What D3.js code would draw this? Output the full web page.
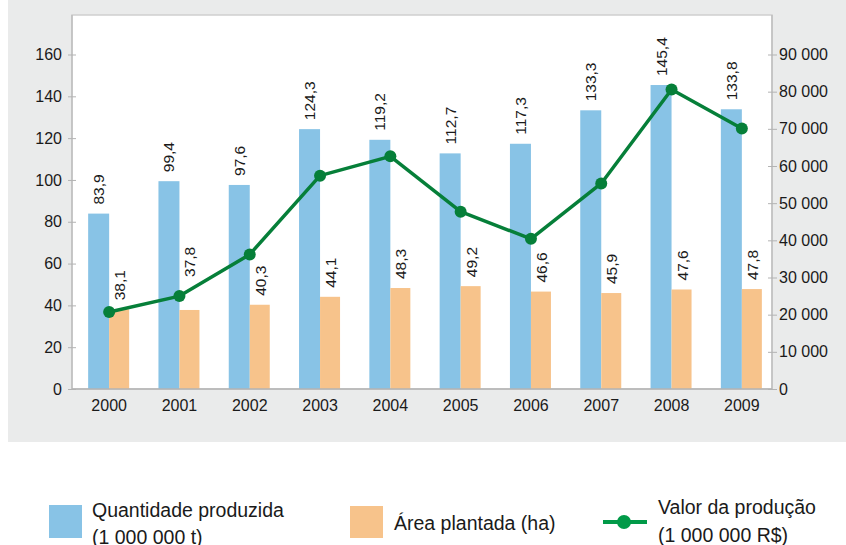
<!DOCTYPE html>
<html>
<head>
<meta charset="utf-8">
<script src="https://cdn.jsdelivr.net/npm/d3@7"></script>
<style>
  body { margin: 0; background: #fff; }
  svg { display: block; font-family: "Liberation Sans", Arial, sans-serif; }
  .axis text { fill: #1a1a1a; font-size: 16px; }
  .axis path, .axis line { stroke: #b3b3b3; }
  .val { font-size: 15.5px; fill: #1a1a1a; }
</style>
</head>
<body>
<script>
// Data
var years = ["2000","2001","2002","2003","2004","2005","2006","2007","2008","2009"];
var quantidade = [83.9, 99.4, 97.6, 124.3, 119.2, 112.7, 117.3, 133.3, 145.4, 133.8];
var area = [38.1, 37.8, 40.3, 44.1, 48.3, 49.2, 46.6, 45.9, 47.6, 47.8];
var valor = [20700, 25000, 36200, 57400, 62600, 47700, 40400, 55300, 80600, 70100];
var leftTicks = [0, 20, 40, 60, 80, 100, 120, 140, 160];
var rightTicks = [0, 10000, 20000, 30000, 40000, 50000, 60000, 70000, 80000, 90000];

var width = 846, height = 545;
var blue = "#88c3e6", orange = "#f7c38b", green = "#067f39";

var svg = d3.select("body").append("svg").attr("width", width).attr("height", height);

// gray panel and white plot area
svg.append("rect").attr("x", 8).attr("y", 0).attr("width", 838).attr("height", 442).attr("fill", "#eaebeb");
svg.append("rect").attr("x", 72).attr("y", 15).attr("width", 700).attr("height", 374)
   .attr("fill", "#fff").attr("stroke", "#cfcfcf").attr("stroke-width", 1.5);

// Scales
var x = d3.scaleBand().domain(years).range([74, 777]);
var y = d3.scaleLinear().domain([0, 160]).range([389, 54.5]);
var y2 = d3.scaleLinear().domain([0, 90000]).range([389, 54.5]);
var bw = 21;
function cx(d, i){ return x(years[i]) + x.bandwidth() / 2; }

var fmt = function(v){ return d3.format(".1f")(v).replace(".", ","); };
var fmtR = function(v){ return d3.format(",")(v).replace(/,/g, " "); };

// Bars
svg.append("g").selectAll("rect").data(quantidade).enter().append("rect")
   .attr("x", function(d, i){ return cx(d, i) - bw; })
   .attr("y", function(d){ return y(d); })
   .attr("width", bw).attr("height", function(d){ return y(0) - y(d); })
   .attr("fill", blue);

svg.append("g").selectAll("rect").data(area).enter().append("rect")
   .attr("x", function(d, i){ return cx(d, i); })
   .attr("y", function(d){ return y(d); })
   .attr("width", bw - 1).attr("height", function(d){ return y(0) - y(d); })
   .attr("fill", orange);

// Axes
var yAxis = d3.axisLeft(y).tickValues(leftTicks).tickSize(4).tickPadding(6);
var yAxis2 = d3.axisRight(y2).tickValues(rightTicks).tickFormat(fmtR).tickSize(5).tickPadding(2);
var xAxis = d3.axisBottom(x).tickSize(0).tickPadding(11);

var gl = svg.append("g").attr("class", "axis").attr("transform", "translate(72,0)").call(yAxis);
gl.select(".domain").remove();
gl.selectAll(".tick line").attr("x1", -4).attr("x2", 4);
svg.append("line").attr("x1", 72).attr("x2", 72).attr("y1", 15).attr("y2", 389).attr("stroke", "#b3b3b3");

var gr = svg.append("g").attr("class", "axis").attr("transform", "translate(772,0)").call(yAxis2);
gr.select(".domain").remove();
gr.selectAll(".tick line").attr("x1", -4).attr("x2", 5);
svg.append("line").attr("x1", 772).attr("x2", 772).attr("y1", 15).attr("y2", 389).attr("stroke", "#b3b3b3");

var gx = svg.append("g").attr("class", "axis").attr("transform", "translate(0,389)").call(xAxis);
gx.select(".domain").remove();
svg.append("line").attr("x1", 72).attr("x2", 772).attr("y1", 389).attr("y2", 389).attr("stroke", "#b3b3b3").attr("stroke-width", 1.5);

// Line
var line = d3.line()
   .x(function(d, i){ return cx(d, i); })
   .y(function(d){ return y2(d); });

svg.append("path").attr("d", line(valor)).attr("fill", "none")
   .attr("stroke", green).attr("stroke-width", 3.5).attr("stroke-linejoin", "round");

svg.append("g").selectAll("circle").data(valor).enter().append("circle")
   .attr("cx", function(d, i){ return cx(d, i); })
   .attr("cy", function(d){ return y2(d); })
   .attr("r", 6).attr("fill", green);

// Value labels (rotated, reading upwards); the 2001 area label sits above the line
function labels(data, dx, lift){
   svg.append("g").selectAll("text").data(data).enter().append("text")
      .attr("class", "val")
      .attr("transform", function(d, i){
         var ly = y(d) - 9 - (lift[i] || 0);
         return "translate(" + (cx(d, i) + dx) + "," + ly + ") rotate(-90)";
      })
      .text(fmt);
}
labels(quantidade, -5, []);
labels(area, 16, [0, 24]);

// Legend
var lg = svg.append("g").attr("font-size", "19.5px").attr("fill", "#1a1a1a");
lg.append("rect").attr("x", 49).attr("y", 505).attr("width", 33).attr("height", 33).attr("fill", blue);
lg.append("text").attr("x", 92).attr("y", 517).text("Quantidade produzida");
lg.append("text").attr("x", 92).attr("y", 544).text("(1 000 000 t)");

lg.append("rect").attr("x", 350).attr("y", 506).attr("width", 33).attr("height", 32).attr("fill", orange);
lg.append("text").attr("x", 394).attr("y", 530).text("Área plantada (ha)");

lg.append("line").attr("x1", 603).attr("x2", 647).attr("y1", 522).attr("y2", 522)
  .attr("stroke", "#019a48").attr("stroke-width", 4);
lg.append("circle").attr("cx", 624).attr("cy", 522).attr("r", 7).attr("fill", "#019a48");
lg.append("text").attr("x", 658).attr("y", 514).text("Valor da produção");
lg.append("text").attr("x", 658).attr("y", 542).text("(1 000 000 R$)");
</script>
</body>
</html>
